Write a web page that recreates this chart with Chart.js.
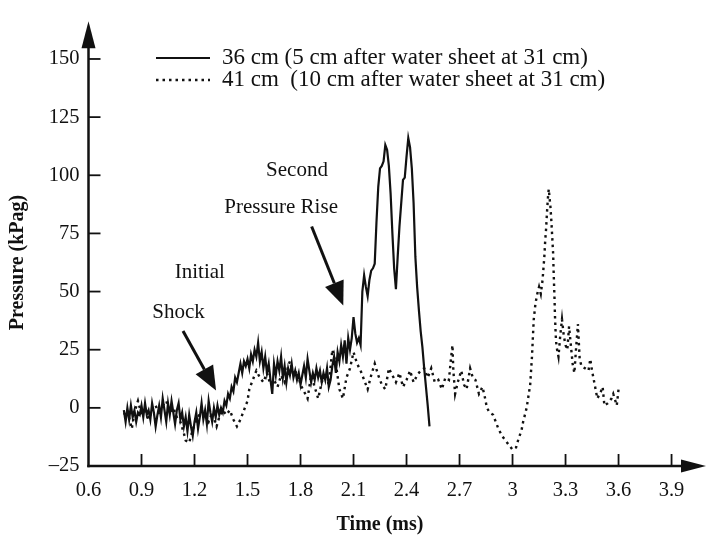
<!DOCTYPE html>
<html>
<head>
<meta charset="utf-8">
<script src="https://cdn.jsdelivr.net/npm/chart.js@4.4.0/dist/chart.umd.min.js"></script>
<style>
  html, body { margin: 0; padding: 0; background: #fff; }
  #wrap { width: 709px; height: 539px; }
</style>
</head>
<body>
<div id="wrap"><canvas id="pressureChart"></canvas></div>
<script>
// 36 cm gauge (solid line)
const solidTimes = [
  0.80, 0.81, 0.82, 0.83, 0.84, 0.85, 0.86, 0.87, 0.88, 0.89, 0.90, 0.91, 0.92, 0.93, 0.94, 0.95, 0.96, 0.97, 0.98, 0.99,
  1.00, 1.01, 1.02, 1.03, 1.04, 1.05, 1.06, 1.07, 1.08, 1.09, 1.10, 1.11, 1.12, 1.13, 1.14, 1.15, 1.16, 1.17, 1.18, 1.19,
  1.20, 1.21, 1.22, 1.23, 1.24, 1.25, 1.26, 1.27, 1.28, 1.29, 1.30, 1.31, 1.32, 1.33, 1.34, 1.35, 1.36, 1.37, 1.38, 1.39,
  1.40, 1.41, 1.42, 1.43, 1.44, 1.45, 1.46, 1.47, 1.48, 1.49, 1.50, 1.51, 1.52, 1.53, 1.54, 1.55, 1.56, 1.57, 1.58, 1.59,
  1.60, 1.61, 1.62, 1.63, 1.64, 1.65, 1.66, 1.67, 1.68, 1.69, 1.70, 1.71, 1.72, 1.73, 1.74, 1.75, 1.76, 1.77, 1.78, 1.79,
  1.80, 1.81, 1.82, 1.83, 1.84, 1.85, 1.86, 1.87, 1.88, 1.89, 1.90, 1.91, 1.92, 1.93, 1.94, 1.95, 1.96, 1.97, 1.98, 1.99,
  2.00, 2.01, 2.02, 2.03, 2.04, 2.05, 2.06, 2.07, 2.08, 2.09, 2.10, 2.11, 2.12, 2.13, 2.14, 2.15, 2.16, 2.17, 2.18, 2.19,
  2.20, 2.21, 2.22, 2.23, 2.24, 2.25, 2.26, 2.27, 2.28, 2.29, 2.30, 2.31, 2.32, 2.33, 2.34, 2.35, 2.36, 2.37, 2.38, 2.39,
  2.40, 2.41, 2.42, 2.43, 2.44, 2.45, 2.46, 2.47, 2.48, 2.49, 2.50, 2.51, 2.52, 2.53
];
const solidValues = [
  -1, -6, 0, -5, 1, -4, -1, -6, -2, -3, 1, -4, 2, -3, -1, -5, 2, -2, -8, -3,
  1, -4, 4, -1, -6, 2, -3, 3, -2, -7, -1, 2, -5, -2, -8, -4, -10, -3, -8, -12,
  -6, -2, -9, -4, 2, -5, -1, -7, 3, -2, -6, 0, -4, 1, -3, 0, -2, 3, 1, 6,
  4, 9, 7, 13, 11, 15, 19, 15, 20, 18, 21, 17, 23, 20, 25, 22, 28, 20, 24, 17,
  22, 15, 19, 12, 6, 19, 14, 20, 16, 22, 13, 18, 11, 17, 14, 19, 13, 16, 12, 15,
  10, 14, 18, 13, 21, 16, 11, 15, 12, 17, 13, 16, 11, 15, 12, 17, 9, 12, 18, 22,
  15, 24, 20, 27, 22, 29, 19, 30, 25, 30, 39, 32, 28, 30, 27, 50, 57, 52, 48, 55,
  59, 60, 62, 80, 95, 103, 104, 106, 113, 111, 104, 92, 75, 60, 51, 65, 78, 88, 98, 99,
  108, 116, 112, 103, 88, 65, 52, 42, 33, 26, 17, 9, 1, -8
];

// 41 cm gauge (dotted line)
const dottedTimes = [
  0.80, 0.82, 0.845, 0.86, 0.88, 0.90, 0.92, 0.94, 0.96, 0.98, 1.00, 1.02, 1.04, 1.06, 1.08, 1.10, 1.12, 1.14, 1.15, 1.17,
  1.18, 1.20, 1.22, 1.24, 1.26, 1.28, 1.30, 1.325, 1.34, 1.36, 1.38, 1.40, 1.42, 1.44, 1.46, 1.48, 1.50, 1.51, 1.53, 1.55,
  1.57, 1.59, 1.61, 1.63, 1.65, 1.67, 1.69, 1.71, 1.73, 1.74, 1.76, 1.78, 1.80, 1.82, 1.84, 1.86, 1.88, 1.90, 1.92, 1.94,
  1.96, 1.98, 2.00, 2.02, 2.04, 2.06, 2.08, 2.10, 2.12, 2.14, 2.16, 2.18, 2.20, 2.22, 2.24, 2.26, 2.28, 2.30, 2.32, 2.34,
  2.36, 2.38, 2.40, 2.42, 2.44, 2.46, 2.48, 2.50, 2.52, 2.54, 2.56, 2.58, 2.60, 2.62, 2.64, 2.65, 2.66, 2.665, 2.675, 2.69,
  2.71, 2.725, 2.74, 2.76, 2.775, 2.79, 2.81, 2.83, 2.845, 2.855, 2.87, 2.89, 2.905, 2.92, 2.94, 2.96, 2.98, 3.00, 3.02, 3.035,
  3.05, 3.06, 3.07, 3.08, 3.09, 3.10, 3.105, 3.11, 3.115, 3.12, 3.13, 3.14, 3.15, 3.16, 3.17, 3.175, 3.18, 3.185, 3.19, 3.195,
  3.20, 3.205, 3.21, 3.215, 3.22, 3.225, 3.23, 3.232, 3.235, 3.238, 3.24, 3.243, 3.246, 3.25, 3.26, 3.27, 3.28, 3.29, 3.30, 3.31,
  3.32, 3.33, 3.34, 3.35, 3.36, 3.37, 3.38, 3.39, 3.41, 3.43, 3.44, 3.45, 3.46, 3.47, 3.48, 3.50, 3.51, 3.52, 3.54, 3.56,
  3.57, 3.59, 3.60
];
const dottedValues = [
  -3, -1, -9, -2, 3, -3, 0, -5, -1, 1, -3, 1, 3, -2, 0, -4, -6, -11, -14, -15,
  -12, -7, -4, -1, -3, -6, -2, -8, -4, -1, -3, -1, -5, -8, -5, -1, 3, 8, 12, 16,
  13, 11, 15, 10, 12, 9, 14, 11, 18, 20, 14, 16, 10, 7, 4, 14, 9, 4, 11, 15,
  10, 25, 19, 8, 4, 13, 17, 24, 19, 16, 12, 8, 14, 19, 14, 10, 8, 17, 14, 11,
  15, 9, 12, 16, 11, 14, 16, 17, 13, 17, 11, 12, 8, 13, 12, 20, 27, 16, 6, 11,
  16, 10, 8, 17, 13, 12, 6, 9, 4, 0, -2, -3, -6, -9, -12, -14, -16, -18, -17, -13,
  -10, -6, -3, 0, 5, 10, 16, 22, 30, 38, 45, 49, 52, 49, 55, 60, 65, 72, 77, 84,
  90, 94, 90, 86, 80, 73, 66, 60, 53, 46, 40, 34, 29, 26, 22, 31, 38, 31, 27, 25,
  35, 27, 19, 15, 26, 36, 21, 18, 17, 16, 21, 16, 12, 8, 4, 7, 9, 1, 2, 4,
  6, 1, 8
];

const xTicks = [0.6, 0.9, 1.2, 1.5, 1.8, 2.1, 2.4, 2.7, 3.0, 3.3, 3.6, 3.9];
const yTicks = [-25, 0, 25, 50, 75, 100, 125, 150];
const seriesLabels = [
  "36 cm (5 cm after water sheet at 31 cm)",
  "41 cm  (10 cm after water sheet at 31 cm)"
];

// annotation anchors, in data units [time, pressure]
const notes = [
  { text: "Second", at: [1.78, 102] },
  { text: "Pressure Rise", at: [1.69, 86] },
  { text: "Initial", at: [1.23, 58] },
  { text: "Shock", at: [1.11, 41] }
];
const arrows = [
  { from: [1.135, 33], to: [1.322, 7.5] },
  { from: [1.863, 78], to: [2.042, 44] }
];

const FONT = "'Liberation Serif', 'Times New Roman', serif";
const INK = "#111";

const axesPlugin = {
  id: "arrowAxes",
  afterDraw(chart) {
    const { ctx, chartArea, scales } = chart;
    const x = scales.x, y = scales.y;
    const x0 = x.getPixelForValue(xTicks[0]);
    const y0 = y.getPixelForValue(yTicks[0]);
    ctx.save();
    ctx.strokeStyle = INK;
    ctx.fillStyle = INK;
    ctx.lineWidth = 2.5;

    // y axis with arrow
    ctx.beginPath();
    ctx.moveTo(x0, y0 + 1.2);
    ctx.lineTo(x0, chartArea.top + 20);
    ctx.stroke();
    ctx.beginPath();
    ctx.moveTo(x0, chartArea.top);
    ctx.lineTo(x0 - 7, chartArea.top + 27);
    ctx.lineTo(x0 + 7, chartArea.top + 27);
    ctx.closePath();
    ctx.fill();

    // x axis with arrow
    ctx.beginPath();
    ctx.moveTo(x0 - 1.2, y0);
    ctx.lineTo(chartArea.right - 18, y0);
    ctx.stroke();
    ctx.beginPath();
    ctx.moveTo(chartArea.right, y0);
    ctx.lineTo(chartArea.right - 25, y0 - 6.5);
    ctx.lineTo(chartArea.right - 25, y0 + 6.5);
    ctx.closePath();
    ctx.fill();

    // tick marks, pointing inward
    ctx.lineWidth = 1.8;
    yTicks.slice(1).forEach((v) => {
      const py = y.getPixelForValue(v);
      ctx.beginPath();
      ctx.moveTo(x0, py);
      ctx.lineTo(x0 + 12, py);
      ctx.stroke();
    });
    xTicks.slice(1).forEach((v) => {
      const px = x.getPixelForValue(v);
      ctx.beginPath();
      ctx.moveTo(px, y0);
      ctx.lineTo(px, y0 - 12);
      ctx.stroke();
    });
    ctx.restore();
  }
};

const textPlugin = {
  id: "figureText",
  afterDraw(chart) {
    const { ctx, scales } = chart;
    const x = scales.x, y = scales.y;
    const px = (t) => x.getPixelForValue(t);
    const py = (v) => y.getPixelForValue(v);
    ctx.save();
    ctx.fillStyle = INK;
    ctx.strokeStyle = INK;

    // legend
    const legX = 156, legLen = 54, rows = [58, 80];
    ctx.lineWidth = 2.2;
    ctx.beginPath();
    ctx.moveTo(legX, rows[0]);
    ctx.lineTo(legX + legLen, rows[0]);
    ctx.stroke();
    ctx.setLineDash([2.5, 4]);
    ctx.lineWidth = 2.4;
    ctx.beginPath();
    ctx.moveTo(legX, rows[1]);
    ctx.lineTo(legX + legLen, rows[1]);
    ctx.stroke();
    ctx.setLineDash([]);
    ctx.font = "23px " + FONT;
    ctx.textAlign = "left";
    ctx.textBaseline = "middle";
    ctx.fillText(seriesLabels[0], legX + legLen + 12, rows[0]);
    ctx.fillText(seriesLabels[1], legX + legLen + 12, rows[1]);

    // annotations
    ctx.font = "21px " + FONT;
    ctx.textAlign = "center";
    notes.forEach((n) => ctx.fillText(n.text, px(n.at[0]), py(n.at[1])));
    arrows.forEach((a) => {
      const x1 = px(a.from[0]), y1 = py(a.from[1]);
      const x2 = px(a.to[0]), y2 = py(a.to[1]);
      const ang = Math.atan2(y2 - y1, x2 - x1);
      const head = 24, half = 10;
      const bx = x2 - head * Math.cos(ang), by = y2 - head * Math.sin(ang);
      ctx.lineWidth = 3;
      ctx.beginPath();
      ctx.moveTo(x1, y1);
      ctx.lineTo(bx, by);
      ctx.stroke();
      ctx.beginPath();
      ctx.moveTo(x2, y2);
      ctx.lineTo(bx + half * Math.sin(ang), by - half * Math.cos(ang));
      ctx.lineTo(bx - half * Math.sin(ang), by + half * Math.cos(ang));
      ctx.closePath();
      ctx.fill();
    });

    // axis titles
    ctx.font = "bold 20px " + FONT;
    const midX = (px(xTicks[0]) + px(xTicks[xTicks.length - 1])) / 2;
    ctx.fillText("Time (ms)", midX, 525);
    const midY = (py(yTicks[0]) + py(yTicks[yTicks.length - 1])) / 2;
    ctx.translate(18, midY);
    ctx.rotate(-Math.PI / 2);
    ctx.fillText("Pressure (kPag)", 0, 0);
    ctx.restore();
  }
};

const ctx = document.getElementById("pressureChart").getContext("2d");
const pressureChart = new Chart(ctx, {
  type: "line",
  data: {
    datasets: [
      {
        label: seriesLabels[0],
        data: solidTimes.map((t, i) => ({ x: t, y: solidValues[i] })),
        borderColor: INK,
        borderWidth: 2.2,
        pointRadius: 0,
        tension: 0,
        fill: false
      },
      {
        label: seriesLabels[1],
        data: dottedTimes.map((t, i) => ({ x: t, y: dottedValues[i] })),
        borderColor: INK,
        borderWidth: 2.4,
        borderDash: [2.5, 4],
        pointRadius: 0,
        tension: 0,
        fill: false
      }
    ]
  },
  options: {
    responsive: true,
    maintainAspectRatio: false,
    animation: false,
    layout: { padding: { top: 10, right: 3, left: 0, bottom: 0 } },
    scales: {
      x: {
        type: "linear",
        min: 0.6,
        max: 4.095,
        grid: { display: false, drawTicks: false },
        border: { display: false },
        afterBuildTicks: (axis) => { axis.ticks = xTicks.map((v) => ({ value: v })); },
        afterFit: (axis) => { axis.height = 73; },
        ticks: {
          padding: 12,
          color: INK,
          font: { family: FONT, size: 20.5 },
          maxRotation: 0,
          callback: (v) => String(Number(v.toFixed(1)))
        }
      },
      y: {
        min: -25,
        max: 166.2,
        grid: { display: false, drawTicks: false },
        border: { display: false },
        afterBuildTicks: (axis) => { axis.ticks = yTicks.map((v) => ({ value: v })); },
        afterFit: (axis) => { axis.width = 88.5; },
        ticks: {
          padding: 9,
          color: INK,
          font: { family: FONT, size: 20.5 },
          callback: (v) => (v < 0 ? "\u2013" + Math.abs(v) : String(v))
        }
      }
    },
    plugins: {
      legend: { display: false },
      tooltip: { enabled: false }
    }
  },
  plugins: [axesPlugin, textPlugin]
});
</script>
</body>
</html>
